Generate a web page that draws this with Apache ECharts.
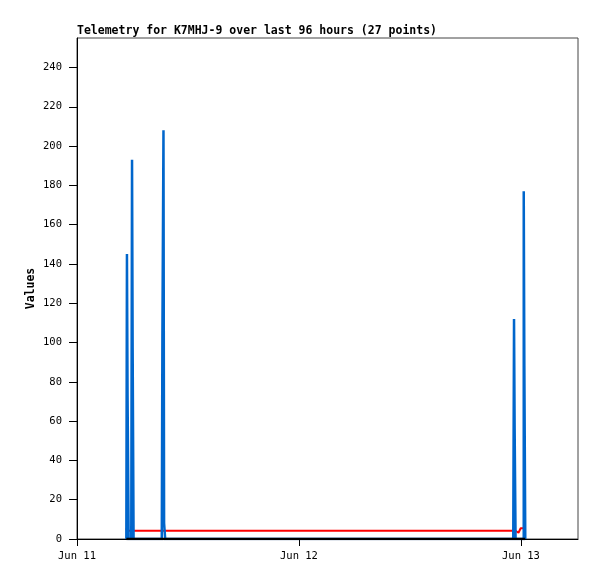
<!DOCTYPE html>
<html>
<head>
<meta charset="utf-8">
<title>Telemetry K7MHJ-9</title>
<script src="https://cdn.jsdelivr.net/npm/echarts@6/dist/echarts.min.js"></script>
<style>
  html, body { margin: 0; padding: 0; background: #fff; }
  #chart { width: 597px; height: 579px; }
</style>
</head>
<body>
<div id="chart"></div>
<script>
// sample times (UTC) and channel values
const times = [
  '2024-06-11T05:20:00Z', '2024-06-11T05:24:00Z', '2024-06-11T05:28:00Z', '2024-06-11T05:35:00Z',
  '2024-06-11T05:52:00Z', '2024-06-11T05:57:00Z', '2024-06-11T06:01:00Z', '2024-06-11T06:07:00Z',
  '2024-06-11T09:10:00Z', '2024-06-11T09:14:00Z', '2024-06-11T09:21:00Z', '2024-06-11T09:25:00Z',
  '2024-06-11T09:32:00Z',
  '2024-06-12T23:10:00Z', '2024-06-12T23:15:00Z', '2024-06-12T23:19:00Z', '2024-06-12T23:25:00Z',
  '2024-06-12T23:44:00Z', '2024-06-12T23:53:00Z', '2024-06-12T23:58:00Z',
  '2024-06-13T00:06:00Z', '2024-06-13T00:18:00Z', '2024-06-13T00:22:00Z', '2024-06-13T00:28:00Z'
]
const blueValues = [
  0, 145, 73, 0,
  0, 193, 97, 0,
  0, 104, 208, 8,
  0,
  0, 112, 56, 0,
  0, 0, 0,
  0, 177, 88, 0
]
const redValues = [
  5.5, 4.2, 4.2, 4.2,
  4.2, 4.2, 4.2, 4.2,
  4.2, 4.2, 4.2, 4.2,
  4.2,
  4.2, 4.2, 4.2, 4.2,
  3.2, 3.2, 5.5,
  5.5, 5.5, 5.5, 5.5
]
const blackValues = times.map(() => 0)

const yTicks = [0, 20, 40, 60, 80, 100, 120, 140, 160, 180, 200, 220, 240]
const xTickDays = ['2024-06-11T00:00:00Z', '2024-06-12T00:00:00Z', '2024-06-13T00:00:00Z']
const months = ['Jan', 'Feb', 'Mar', 'Apr', 'May', 'Jun', 'Jul', 'Aug', 'Sep', 'Oct', 'Nov', 'Dec']

const ts = times.map(t => Date.parse(t))
const pair = vals => ts.map((t, i) => [t, vals[i]])
const xTicks = xTickDays.map(d => Date.parse(d))

const mono = '"DejaVu Sans Mono", "Liberation Mono", monospace'

const chart = echarts.init(document.getElementById('chart'))

const option = {
  animation: false,
  title: {
    text: 'Telemetry for K7MHJ-9 over last 96 hours (27 points)',
    left: 77,
    top: 25,
    padding: 0,
    textStyle: { fontFamily: mono, fontSize: 11.5, fontWeight: 'bold', color: '#000' }
  },
  grid: {
    left: 77,
    right: 19,
    top: 38,
    bottom: 40,
    show: true,
    borderColor: '#444',
    borderWidth: 1
  },
  xAxis: {
    type: 'value',
    min: Date.parse('2024-06-11T00:00:00Z'),
    max: Date.parse('2024-06-13T06:10:00Z'),
    axisLine: { lineStyle: { color: '#000', width: 1 } },
    axisTick: { length: 7, customValues: xTicks, lineStyle: { color: '#000' } },
    axisLabel: {
      customValues: xTicks,
      margin: 12,
      fontFamily: mono,
      fontSize: 10.5,
      color: '#000',
      formatter: v => {
        const d = new Date(v)
        return months[d.getUTCMonth()] + ' ' + d.getUTCDate()
      }
    },
    splitLine: { show: false }
  },
  yAxis: {
    type: 'value',
    min: 0,
    max: 255,
    name: 'Values',
    nameLocation: 'middle',
    nameGap: 40,
    nameMoveOverlap: false,
    nameTextStyle: { fontFamily: mono, fontSize: 11.5, fontWeight: 'bold', color: '#000' },
    axisLine: { show: true, lineStyle: { color: '#000', width: 1 } },
    axisTick: { length: 8, customValues: yTicks, lineStyle: { color: '#000' } },
    axisLabel: { customValues: yTicks, margin: 15, fontFamily: mono, fontSize: 10.5, color: '#000' },
    splitLine: { show: false }
  },
  series: [
    {
      type: 'line',
      data: pair(redValues),
      symbol: 'none',
      lineStyle: { color: '#ff0000', width: 2 },
      z: 2
    },
    {
      type: 'line',
      data: pair(blueValues),
      symbol: 'none',
      step: 'end',
      lineStyle: { color: '#0066cc', width: 2.5, cap: 'butt', join: 'miter' },
      z: 3
    },
    {
      type: 'line',
      data: pair(blackValues),
      symbol: 'none',
      lineStyle: { color: '#000', width: 2.5 },
      z: 4
    }
  ]
}

chart.setOption(option)
</script>
</body>
</html>
